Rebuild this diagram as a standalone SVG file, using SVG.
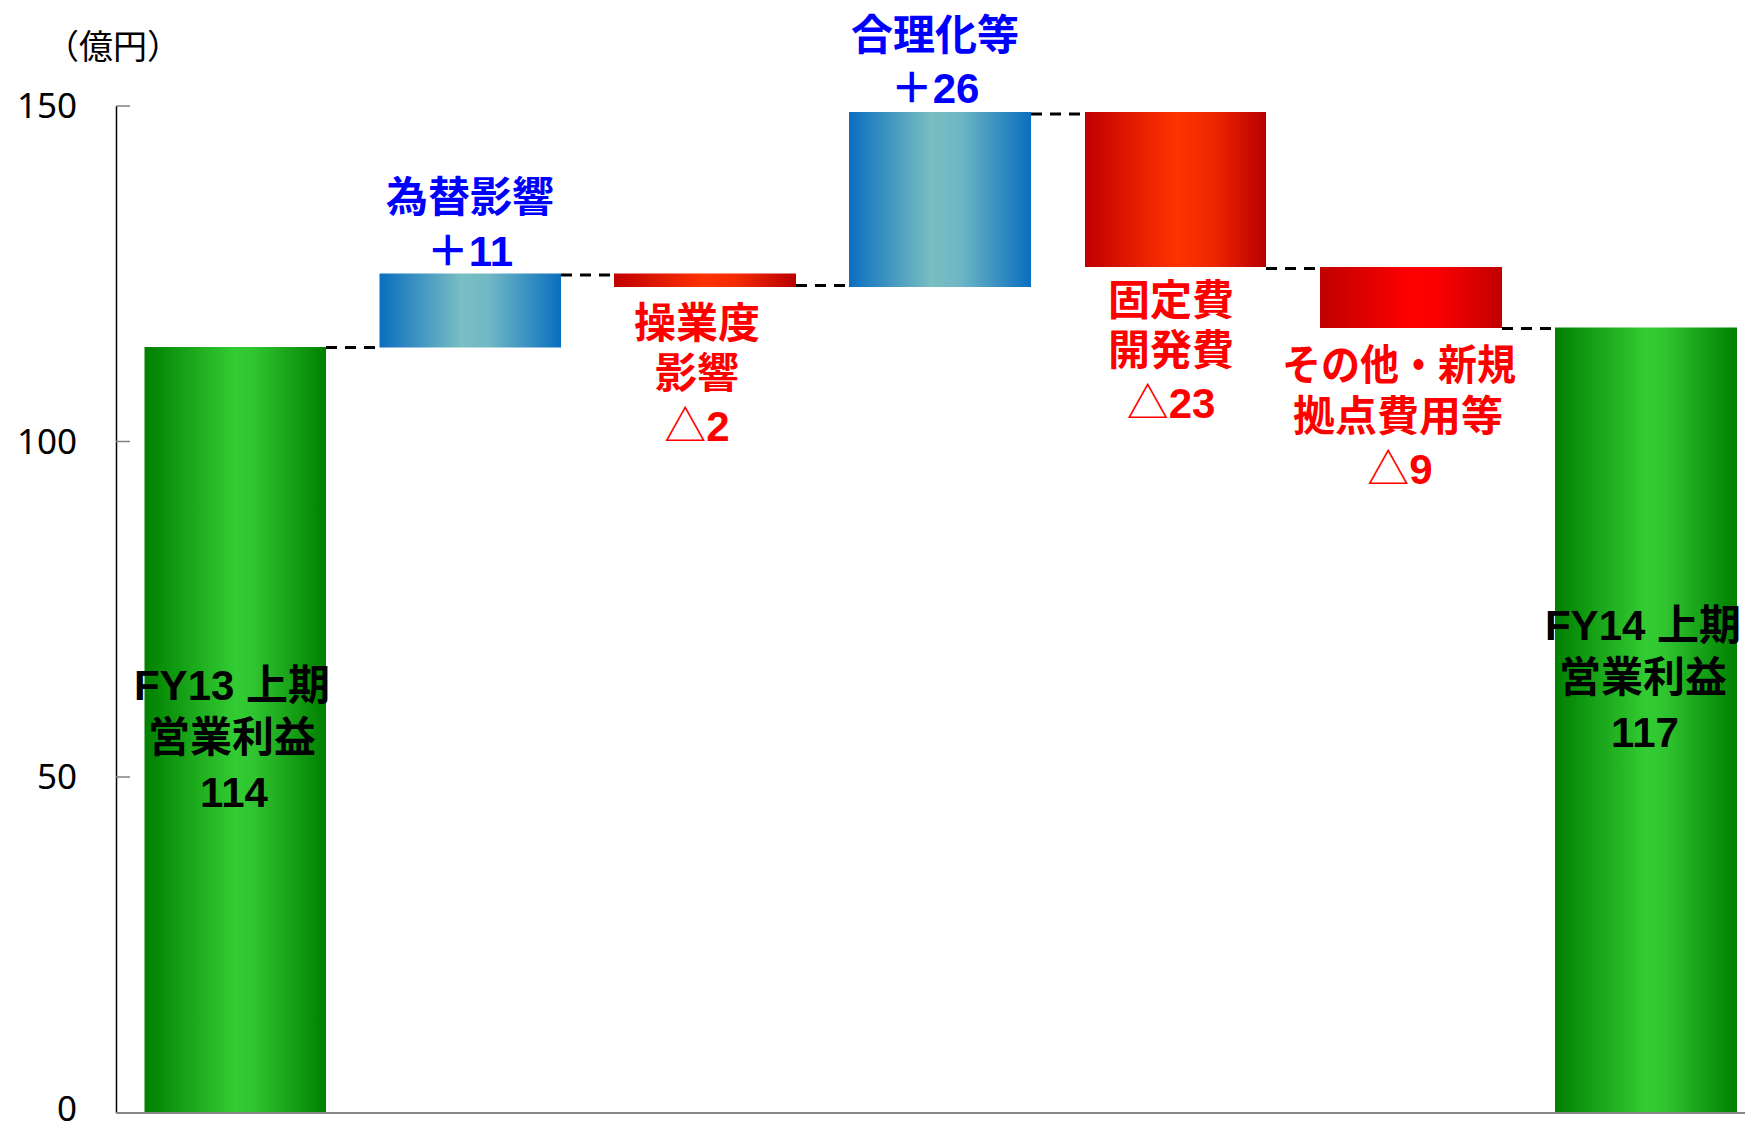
<svg xmlns="http://www.w3.org/2000/svg" width="1745" height="1128" viewBox="0 0 1745 1128">
<defs>
<linearGradient id="gGreen" x1="0" y1="0" x2="1" y2="0">
<stop offset="0" stop-color="#008000"/>
<stop offset="0.5" stop-color="#33CC33"/>
<stop offset="0.6" stop-color="#30C530"/>
<stop offset="1" stop-color="#008000"/>
</linearGradient>
<linearGradient id="gBlue" x1="0" y1="0" x2="1" y2="0">
<stop offset="0" stop-color="#0A6EC0"/>
<stop offset="0.45" stop-color="#78BEC2"/>
<stop offset="0.6" stop-color="#70B8C4"/>
<stop offset="1" stop-color="#0A6EC0"/>
</linearGradient>
<linearGradient id="gRedO" x1="0" y1="0" x2="1" y2="0">
<stop offset="0" stop-color="#C00000"/>
<stop offset="0.5" stop-color="#FF3300"/>
<stop offset="0.7" stop-color="#F02800"/>
<stop offset="1" stop-color="#B80000"/>
</linearGradient>
<linearGradient id="gRed" x1="0" y1="0" x2="1" y2="0">
<stop offset="0" stop-color="#C00000"/>
<stop offset="0.5" stop-color="#FF0000"/>
<stop offset="0.65" stop-color="#FA0000"/>
<stop offset="1" stop-color="#C00000"/>
</linearGradient>
</defs>
<style>
.lbl{font-family:"Liberation Sans","Noto Sans CJK JP",sans-serif;font-weight:bold;font-size:42px;text-anchor:middle}
.tri{font-family:"Noto Sans CJK JP",sans-serif;font-weight:normal}
.blue{fill:#0000FF}
.red{fill:#FF0000}
.blk{fill:#000000}
.tick{font-family:"Noto Sans",sans-serif;font-size:35px;text-anchor:end;fill:#000}
.dash{stroke:#000;stroke-width:3;stroke-dasharray:11 8;fill:none}
</style>
<rect x="0" y="0" width="1745" height="1128" fill="#FFFFFF"/>
<g id="axis">
<text x="113" y="59" font-family="'Noto Sans CJK JP',sans-serif" font-size="34" text-anchor="middle" fill="#000">（億円）</text>
<line x1="116.5" y1="106" x2="116.5" y2="1113" stroke="#000" stroke-width="1.5"/>
<g stroke="#808080" stroke-width="1.5">
<line x1="116" y1="106" x2="130" y2="106"/>
<line x1="116" y1="441.5" x2="130" y2="441.5"/>
<line x1="116" y1="777" x2="130" y2="777"/>
</g>
<text class="tick" x="77" y="118">150</text>
<text class="tick" x="77" y="454">100</text>
<text class="tick" x="77" y="789">50</text>
<text class="tick" x="77" y="1121">0</text>
</g>
<g id="bar1">
<rect x="144.5" y="347" width="181.5" height="767" fill="url(#gGreen)"/>
<text class="lbl blk" x="232" y="700">FY13 上期</text>
<text class="lbl blk" x="232" y="752">営業利益</text>
<text class="lbl blk" x="234" y="807">114</text>
</g>
<g id="bar2">
<rect x="379.5" y="273.5" width="181.5" height="74" fill="url(#gBlue)"/>
<text class="lbl blue" x="470" y="212">為替影響</text>
<text class="lbl blue" x="470" y="266">＋11</text>
</g>
<g id="bar3">
<rect x="614" y="273.5" width="182" height="13.5" fill="url(#gRedO)"/>
<text class="lbl red" x="697" y="338">操業度</text>
<text class="lbl red" x="697" y="388">影響</text>
<text class="lbl red" x="697" y="441"><tspan class="tri">△</tspan>2</text>
</g>
<g id="bar4">
<rect x="849" y="112" width="182" height="175" fill="url(#gBlue)"/>
<text class="lbl blue" x="935" y="50">合理化等</text>
<text class="lbl blue" x="935" y="103">＋26</text>
</g>
<g id="bar5">
<rect x="1085" y="112" width="181" height="155" fill="url(#gRedO)"/>
<text class="lbl red" x="1171" y="315">固定費</text>
<text class="lbl red" x="1171" y="365">開発費</text>
<text class="lbl red" x="1171" y="418"><tspan class="tri">△</tspan>23</text>
</g>
<g id="bar6">
<rect x="1320" y="267" width="182" height="61" fill="url(#gRed)"/>
<text class="lbl red" x="1399" y="380" textLength="234" lengthAdjust="spacingAndGlyphs">その他・新規</text>
<text class="lbl red" x="1398" y="431">拠点費用等</text>
<text class="lbl red" x="1400" y="484"><tspan class="tri">△</tspan>9</text>
</g>
<g id="bar7">
<rect x="1555" y="327.5" width="182" height="786.5" fill="url(#gGreen)"/>
<text class="lbl blk" x="1643" y="640">FY14 上期</text>
<text class="lbl blk" x="1643" y="692">営業利益</text>
<text class="lbl blk" x="1645" y="747">117</text>
</g>
<g id="connectors">
<line class="dash" x1="326" y1="347.5" x2="379.5" y2="347.5"/>
<line class="dash" x1="561" y1="275" x2="614" y2="275"/>
<line class="dash" x1="796" y1="285.5" x2="849" y2="285.5"/>
<line class="dash" x1="1031" y1="114" x2="1085" y2="114"/>
<line class="dash" x1="1266" y1="268.5" x2="1320" y2="268.5"/>
<line class="dash" x1="1502" y1="328.5" x2="1555" y2="328.5"/>
</g>
<line x1="116" y1="1113" x2="1745" y2="1113" stroke="#888888" stroke-width="2"/>
</svg>
